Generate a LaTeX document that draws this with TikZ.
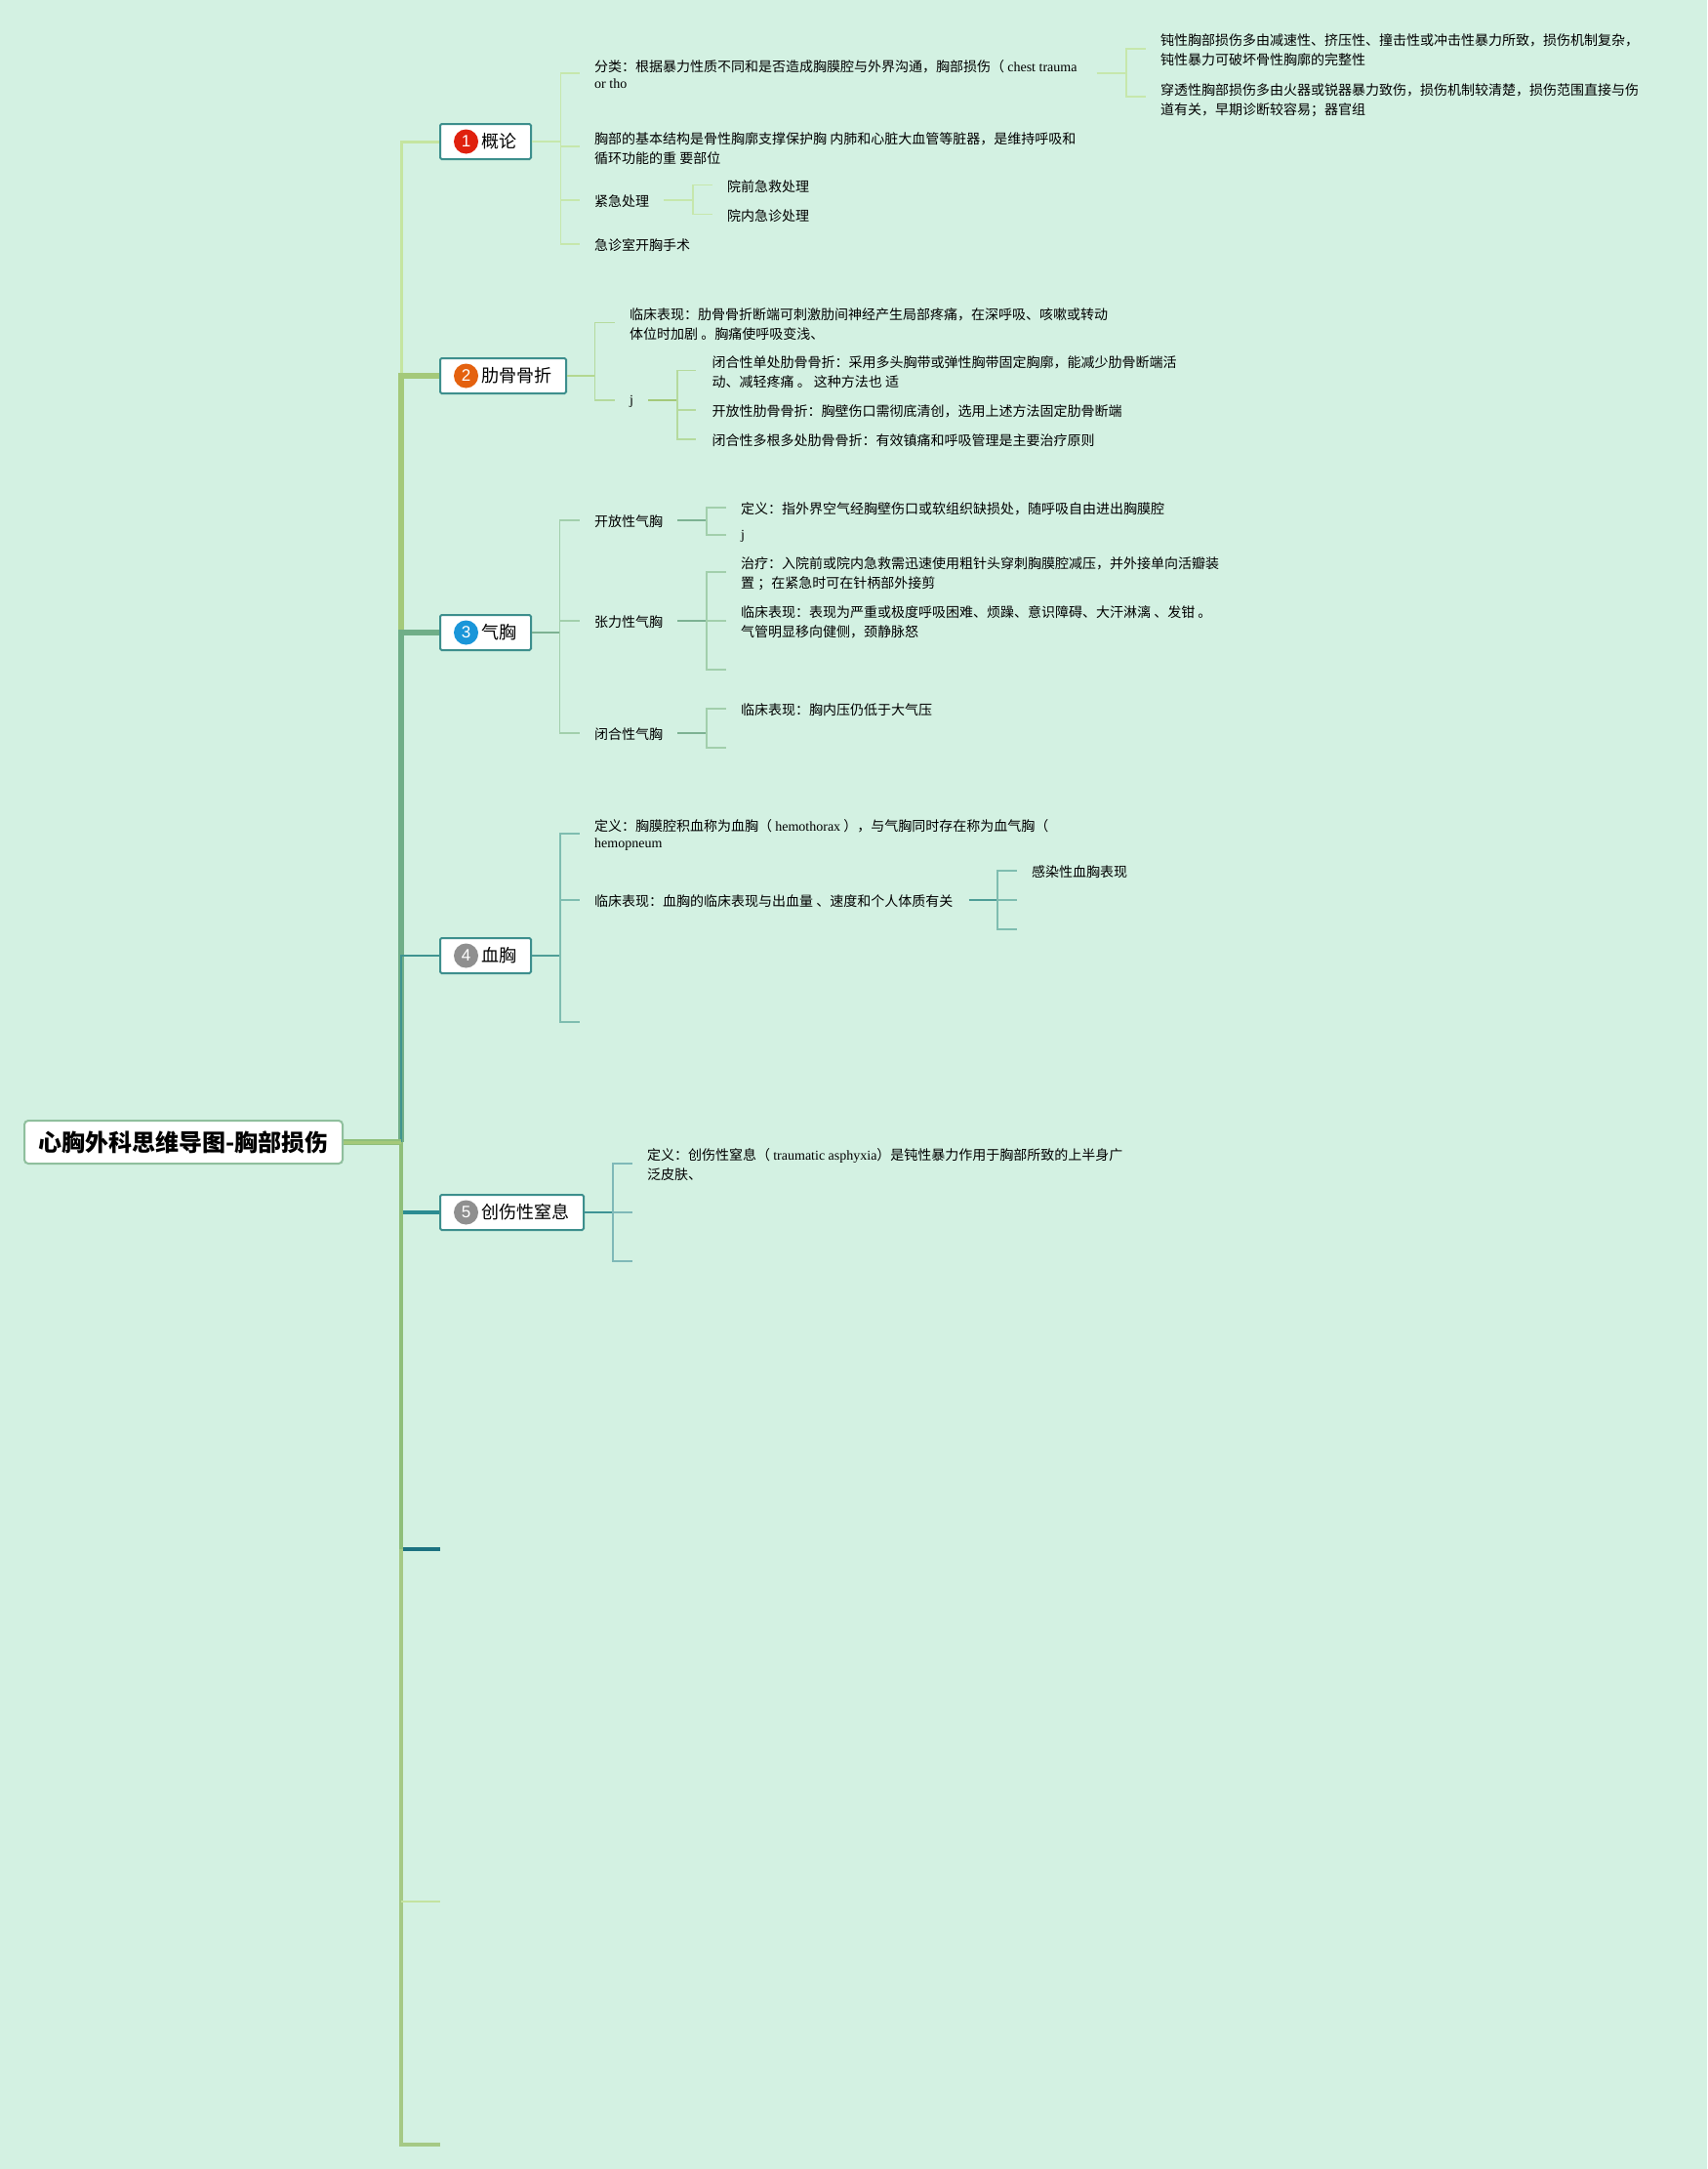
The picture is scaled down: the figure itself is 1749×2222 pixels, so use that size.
\documentclass[tikz,border=0pt]{standalone}
\usepackage{fontspec}
\setmainfont{Noto Sans CJK SC}
\newfontfamily\latfont{Liberation Serif}
\newfontfamily\numfont{Liberation Sans}
\newcommand{\lat}[1]{{\latfont #1}}
\definecolor{bgc}{HTML}{D3F1E2}
\definecolor{nodeb}{HTML}{3D8F8D}
\definecolor{rootb}{HTML}{8FBF9D}
\definecolor{tra}{HTML}{C5E5A0}
\definecolor{trb}{HTML}{A4C97A}
\definecolor{trc}{HTML}{70AE88}
\definecolor{trd}{HTML}{3F9490}
\definecolor{tre}{HTML}{2B8C92}
\definecolor{trf}{HTML}{1C7280}
\definecolor{trg}{HTML}{C3E3A0}
\definecolor{trh}{HTML}{A5C985}
\definecolor{tri}{HTML}{8FBF7A}
\definecolor{suba}{HTML}{C6E7AC}
\definecolor{subb}{HTML}{B5DA9E}
\definecolor{subc}{HTML}{A2CFAC}
\definecolor{subd}{HTML}{7FBDB0}
\definecolor{sube}{HTML}{7FB9B8}
\definecolor{outb}{HTML}{B3D891}
\definecolor{outc}{HTML}{7DB293}
\definecolor{outd}{HTML}{4F9E97}
\definecolor{oute}{HTML}{3E9395}
\definecolor{cRed}{HTML}{E0210E}
\definecolor{cOrg}{HTML}{E4610F}
\definecolor{cBlu}{HTML}{1A96D9}
\definecolor{cGry}{HTML}{8F8F8F}
\tikzset{
  rootbox/.style={draw=rootb,line width=2pt,fill=white,rounded corners=4pt,inner sep=0pt,minimum width=326pt,minimum height=44pt,font=\fontsize{24}{28}\selectfont\bfseries},
  topic/.style={draw=nodeb,line width=2pt,fill=white,rounded corners=1.5pt,inner sep=0pt,minimum height=36pt,anchor=west,font=\fontsize{18}{22}\selectfont},
  badge/.style={circle,inner sep=0pt,minimum size=25pt,text=white,font=\fontsize{17}{17}\selectfont\numfont},
  txt/.style={anchor=west,inner sep=0pt,align=left,font=\fontsize{14}{20}\selectfont},
  cAstub/.style={draw=suba,line width=1.5pt},
  cBstub/.style={draw=subb,line width=1.5pt},
  cCstub/.style={draw=subc,line width=1.5pt},
  cDstub/.style={draw=subd,line width=1.5pt},
  cEstub/.style={draw=sube,line width=1.5pt},
}
\newcommand{\tb}[2]{\makebox[#1pt][l]{\hspace{42pt}\raisebox{-1pt}{#2}}}
\begin{document}
\begin{tikzpicture}[x=1pt,y=-1pt]
\useasboundingbox (0,0) rectangle (1749,2222);
\fill[bgc] (0,0) rectangle (1749,2222);

% hubs
\coordinate (hub) at (411,1170);
\coordinate (hubf) at (411,1587);
\coordinate (endf) at (451,1587);
\coordinate (hubg) at (411,1948);
\coordinate (endg) at (451,1948);
\coordinate (endh) at (451,2197);

% nodes
\node[rootbox] (root) at (188,1170) {\raisebox{-1pt}{心胸外科思维导图-胸部损伤}};
\node[topic] (n1) at (450,145) {\tb{93}{概论}};
\node[topic] (n2) at (450,385) {\tb{129}{肋骨骨折}};
\node[topic] (n3) at (450,648) {\tb{93}{气胸}};
\node[topic] (n4) at (450,979) {\tb{93}{血胸}};
\node[topic] (n5) at (450,1242) {\tb{147}{创伤性窒息}};
\node[badge,fill=cRed] (c1) at (477.5,145) {1};
\node[badge,fill=cOrg] (c2) at (477.5,385) {2};
\node[badge,fill=cBlu] (c3) at (477.5,648) {3};
\node[badge,fill=cGry] (c4) at (477.5,979) {4};
\node[badge,fill=cGry] (c5) at (477.5,1242) {5};

% trunk
\draw[tra,line width=3pt] (hub) |- (n1.west);
\draw[trb,line width=6pt] (hub) |- (n2.west);
\draw[trc,line width=6pt] (hub) |- (n3.west);
\draw[trd,line width=2.5pt] (hub) |- (n4.west);
\draw[tre,line width=4.5pt] (hub |- n5.west) -- (n5.west);
\draw[trf,line width=4pt] (hubf) -- (endf);
\draw[tri,line width=4pt] (hub) -- (hubf);
\draw[trh,line width=4pt] (hubf) |- (endh);
\draw[trg,line width=2.5pt] (hubg) -- (endg);
\draw[tri,line width=6pt] (root.east) -- (hub);
\draw[trb,line width=3pt] (root.east) -- (hub);

% branch 1
\coordinate (b1) at (574.5,145);
\node[txt] (a1) at (609,76.5) {分类：根据暴力性质不同和是否造成胸膜腔与外界沟通，胸部损伤（ \lat{chest trauma}\\[-3pt]\lat{or tho}};
\node[txt] (a2) at (609,152.5) {胸部的基本结构是骨性胸廓支撑保护胸 内肺和心脏大血管等脏器，是维持呼吸和\\循环功能的重 要部位};
\node[txt] (a3) at (609,206.5) {紧急处理};
\node[txt] (a4) at (609,251.5) {急诊室开胸手术};
\node[txt] (a11) at (1189,51.5) {钝性胸部损伤多由减速性、挤压性、撞击性或冲击性暴力所致，损伤机制复杂，\\钝性暴力可破坏骨性胸廓的完整性};
\node[txt] (a12) at (1189,102.5) {穿透性胸部损伤多由火器或锐器暴力致伤，损伤机制较清楚，损伤范围直接与伤\\道有关，早期诊断较容易；器官组};
\node[txt] (a31) at (745,191) {院前急救处理};
\node[txt] (a32) at (745,221) {院内急诊处理};
\draw[cAstub] (n1.east) -- (b1);
\foreach \t/\d in {a1/-1.5,a2/-2.5,a3/-1.5,a4/-1.5}{\draw[cAstub] (b1) |- ([shift={(-15,\d)}]\t.west);}
\coordinate (b11) at (1154,75);
\draw[cAstub] (a1.east |- b11) ++(20,0) -- (b11);
\foreach \t/\d in {a11/-1.5,a12/-3.5}{\draw[cAstub] (b11) |- ([shift={(-15,\d)}]\t.west);}
\coordinate (b31) at (710,205);
\draw[cAstub,line width=2pt] (a3.east |- b31) ++(15,0) -- (b31);
\foreach \t in {a31,a32}{\draw[cAstub] (b31) |- ([shift={(-15,-1.5)}]\t.west);}

% branch 2
\coordinate (b2) at (609.5,385);
\node[txt] (r1) at (645,332) {临床表现：肋骨骨折断端可刺激肋间神经产生局部疼痛，在深呼吸、咳嗽或转动\\体位时加剧 。胸痛使呼吸变浅、};
\node[txt] (r2) at (645,411.5) {\lat{j}};
\node[txt] (r21) at (729.5,381) {闭合性单处肋骨骨折：采用多头胸带或弹性胸带固定胸廓，能减少肋骨断端活\\动、减轻疼痛 。 这种方法也 适};
\node[txt] (r22) at (729.5,421.5) {开放性肋骨骨折：胸壁伤口需彻底清创，选用上述方法固定肋骨断端};
\node[txt] (r23) at (729.5,451.5) {闭合性多根多处肋骨骨折：有效镇痛和呼吸管理是主要治疗原则};
\draw[outb,line width=2pt] (n2.east) -- (b2);
\foreach \t in {r1,r2}{\draw[cBstub] (b2) |- ([shift={(-15,-1.5)}]\t.west);}
\coordinate (b21) at (694,410);
\draw[trb,line width=2pt] (r2.east |- b21) ++(15,0) -- (b21);
\foreach \t in {r21,r22,r23}{\draw[cBstub] (b21) |- ([shift={(-17,-1.5)}]\t.west);}

% branch 3
\coordinate (b3) at (573.5,648);
\node[txt] (p1) at (609,534.5) {开放性气胸};
\node[txt] (p2) at (609,637.5) {张力性气胸};
\node[txt] (p3) at (609,752.5) {闭合性气胸};
\node[txt] (p11) at (759,521.5) {定义：指外界空气经胸壁伤口或软组织缺损处，随呼吸自由进出胸膜腔};
\node[txt] (p12) at (759,549.5) {\lat{j}};
\node[txt] (p21) at (759,587.5) {治疗：入院前或院内急救需迅速使用粗针头穿刺胸膜腔减压，并外接单向活瓣装\\置 ；在紧急时可在针柄部外接剪};
\node[txt] (p22) at (759,637.5) {临床表现：表现为严重或极度呼吸困难、烦躁、意识障碍、大汗淋漓 、发钳 。\\气管明显移向健侧，颈静脉怒};
\node[txt] (p31) at (759,727.5) {临床表现：胸内压仍低于大气压};
\coordinate (e23) at (744,686);
\coordinate (e32) at (744,766);
\draw[outc,line width=2pt] (n3.east) -- (b3);
\foreach \t in {p1,p2,p3}{\draw[cCstub] (b3) |- ([shift={(-15,-1.5)}]\t.west);}
\coordinate (b31a) at (724,533);
\coordinate (b32a) at (724,636);
\coordinate (b33a) at (724,751);
\draw[outc,line width=2pt] (p1.east |- b31a) ++(15,0) -- (b31a);
\draw[outc,line width=2pt] (p2.east |- b32a) ++(15,0) -- (b32a);
\draw[outc,line width=2pt] (p3.east |- b33a) ++(15,0) -- (b33a);
\foreach \t in {p11,p12}{\draw[cCstub] (b31a) |- ([shift={(-15,-1.5)}]\t.west);}
\foreach \t in {p21,p22}{\draw[cCstub] (b32a) |- ([shift={(-15,-1.5)}]\t.west);}
\draw[cCstub] (b32a) |- (e23);
\draw[cCstub] (b33a) |- ([shift={(-15,-1.5)}]p31.west);
\draw[cCstub] (b33a) |- (e32);

% branch 4
\coordinate (b4) at (574,979);
\node[txt] (x1) at (609,855.5) {定义：胸膜腔积血称为血胸（ \lat{hemothorax} ），与气胸同时存在称为血气胸（\\[-3pt]\lat{hemopneum}};
\node[txt] (x2) at (609,923.5) {临床表现：血胸的临床表现与出血量 、速度和个人体质有关};
\node[txt] (x21) at (1057,893.5) {感染性血胸表现};
\coordinate (e43) at (594,1047);
\coordinate (b41) at (1022,922);
\coordinate (e412) at (1042,922);
\coordinate (e413) at (1042,952);
\draw[outd,line width=2pt] (n4.east) -- (b4);
\foreach \t in {x1,x2}{\draw[cDstub] (b4) |- ([shift={(-15,-1.5)}]\t.west);}
\draw[cDstub] (b4) |- (e43);
\draw[outd,line width=2pt] (x2.east |- b41) ++(16,0) -- (b41);
\draw[cDstub] (b41) |- ([shift={(-15,-1.5)}]x21.west);
\draw[cDstub] (b41) -- (e412);
\draw[cDstub] (b41) |- (e413);

% branch 5
\coordinate (b5) at (628,1242);
\node[txt] (y1) at (663,1193.5) {定义：创伤性窒息（ \lat{traumatic asphyxia}）是钝性暴力作用于胸部所致的上半身广\\泛皮肤、};
\coordinate (e52) at (647.5,1242);
\coordinate (e53) at (647.5,1292);
\draw[oute,line width=2pt] (n5.east) -- (b5);
\draw[cEstub] (b5) |- ([shift={(-15,-1.5)}]y1.west);
\draw[cEstub] (b5) -- (e52);
\draw[cEstub] (b5) |- (e53);
\end{tikzpicture}
\end{document}
